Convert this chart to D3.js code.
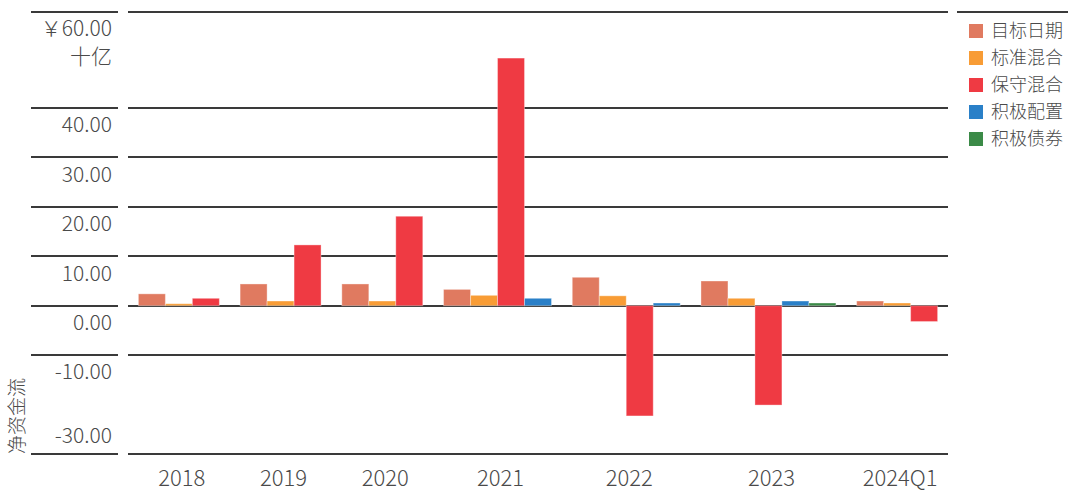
<!DOCTYPE html>
<html>
<head>
<meta charset="utf-8">
<script src="https://cdn.jsdelivr.net/npm/d3@7"></script>
<style>
  html, body { margin: 0; padding: 0; background: #fff; }
  svg { display: block; font-family: "Noto Sans CJK SC", "Noto Sans", sans-serif; }
</style>
</head>
<body>
<svg id="chart" width="1080" height="504"></svg>
<script>
// ---- data ----
const categories = ["2018", "2019", "2020", "2021", "2022", "2023", "2024Q1"];
const seriesNames = ["目标日期", "标准混合", "保守混合", "积极配置", "积极债券"];
const seriesColors = ["#e07a60", "#f89c35", "#ef3a43", "#2a80c8", "#3b8a47"];
const targetDate      = [2.4, 4.4, 4.4, 3.3, 5.75, 5.0, 0.95];
const balancedMix     = [0.4, 0.95, 0.95, 2.1, 2.0, 1.5, 0.55];
const conservativeMix = [1.5, 12.3, 18.1, 50.1, -22.3, -20.1, -3.2];
const aggressiveAlloc = [null, null, null, 1.5, 0.55, 0.95, null];
const aggressiveBond  = [null, null, null, null, null, 0.55, null];
const yTicks = [60, 40, 30, 20, 10, 0, -10, -30];
const yTickLabels = ["￥60.00", "40.00", "30.00", "20.00", "10.00", "0.00", "-10.00", "-30.00"];
const yUnitLabel = "十亿";
const yAxisTitle = "净资金流";

const seriesValues = [targetDate, balancedMix, conservativeMix, aggressiveAlloc, aggressiveBond];

// ---- layout ----
const svg = d3.select("#chart");
const plotLeft = 128, plotRight = 948, plotTop = 12, plotBottom = 454;
const gridColor = "#3a3a3a";
const textColor = "#4a4a4a";

const y = d3.scaleLinear().domain([-30, 40]).range([454, 108]);

// groups: only present series, packed, with uniform gap between groups
const groups = categories.map((c, i) => {
  const bars = [];
  seriesValues.forEach((arr, s) => {
    if (arr[i] !== null && arr[i] !== undefined) bars.push({ s, v: arr[i] });
  });
  return { c, bars };
});
const gap = 0.77;
let acc = gap / 2;
groups.forEach(g => { g.start = acc; acc += g.bars.length + gap; });
const totalUnits = acc - gap / 2;
const x = d3.scaleLinear().domain([0, totalUnits]).range([plotLeft, plotRight]);
const bw = x(1) - x(0);

// ---- gridlines ----
const grid = svg.append("g");
yTicks.forEach(t => {
  const yy = Math.round(y(t === 60 ? 59.4 : t));
  grid.append("line").attr("x1", 31).attr("x2", 118).attr("y1", yy).attr("y2", yy)
    .attr("stroke", gridColor).attr("stroke-width", 2);
  grid.append("line").attr("x1", plotLeft).attr("x2", plotRight).attr("y1", yy).attr("y2", yy)
    .attr("stroke", gridColor).attr("stroke-width", 2);
});
// legend top rule
const topY = Math.round(y(59.4));
grid.append("line").attr("x1", 957).attr("x2", 1068).attr("y1", topY).attr("y2", topY)
  .attr("stroke", gridColor).attr("stroke-width", 2);

// ---- bars ----
const barG = svg.append("g");
groups.forEach(g => {
  g.bars.forEach((b, k) => {
    const x0 = x(g.start + k);
    const y0 = y(Math.max(0, b.v)), y1 = y(Math.min(0, b.v));
    barG.append("rect")
      .attr("x", x0).attr("width", bw)
      .attr("y", y0).attr("height", Math.max(0.5, y1 - y0))
      .attr("fill", seriesColors[b.s])
      .attr("stroke", "rgba(255,255,255,0.35)").attr("stroke-width", 1);
  });
});

// ---- y labels ----
const yl = svg.append("g").attr("fill", textColor).attr("font-size", 21).attr("font-weight", 300)
  .attr("text-anchor", "end");
yTicks.forEach((t, i) => {
  const base = y(t === 60 ? 59.4 : t);
  const cy = Math.min(base + 17, plotBottom - 18);
  yl.append("text").attr("x", 112).attr("y", cy).attr("dy", "0.35em").text(yTickLabels[i]);
});
yl.append("text").attr("x", 112).attr("y", 57).attr("dy", "0.35em").text(yUnitLabel);

// y axis title
svg.append("text")
  .attr("transform", "translate(17,416) rotate(-90)")
  .attr("text-anchor", "middle").attr("dy", "0.35em")
  .attr("font-size", 19).attr("font-weight", 300).attr("fill", textColor)
  .text(yAxisTitle);

// ---- x labels ----
const xl = svg.append("g").attr("fill", textColor).attr("font-size", 22).attr("font-weight", 300)
  .attr("text-anchor", "middle");
groups.forEach(g => {
  xl.append("text").attr("x", x(g.start + g.bars.length / 2) + 3).attr("y", 478).attr("dy", "0.35em").text(g.c);
});

// ---- legend ----
const leg = svg.append("g").attr("transform", "translate(969,31)");
seriesNames.forEach((n, i) => {
  const r = leg.append("g").attr("transform", `translate(0,${i * 27})`);
  r.append("rect").attr("x", 0).attr("y", -7).attr("width", 14).attr("height", 14).attr("fill", seriesColors[i]);
  r.append("text").attr("x", 22).attr("y", 0).attr("dy", "0.35em")
    .attr("font-size", 18).attr("font-weight", 300).attr("fill", textColor).text(n);
});
</script>
</body>
</html>
